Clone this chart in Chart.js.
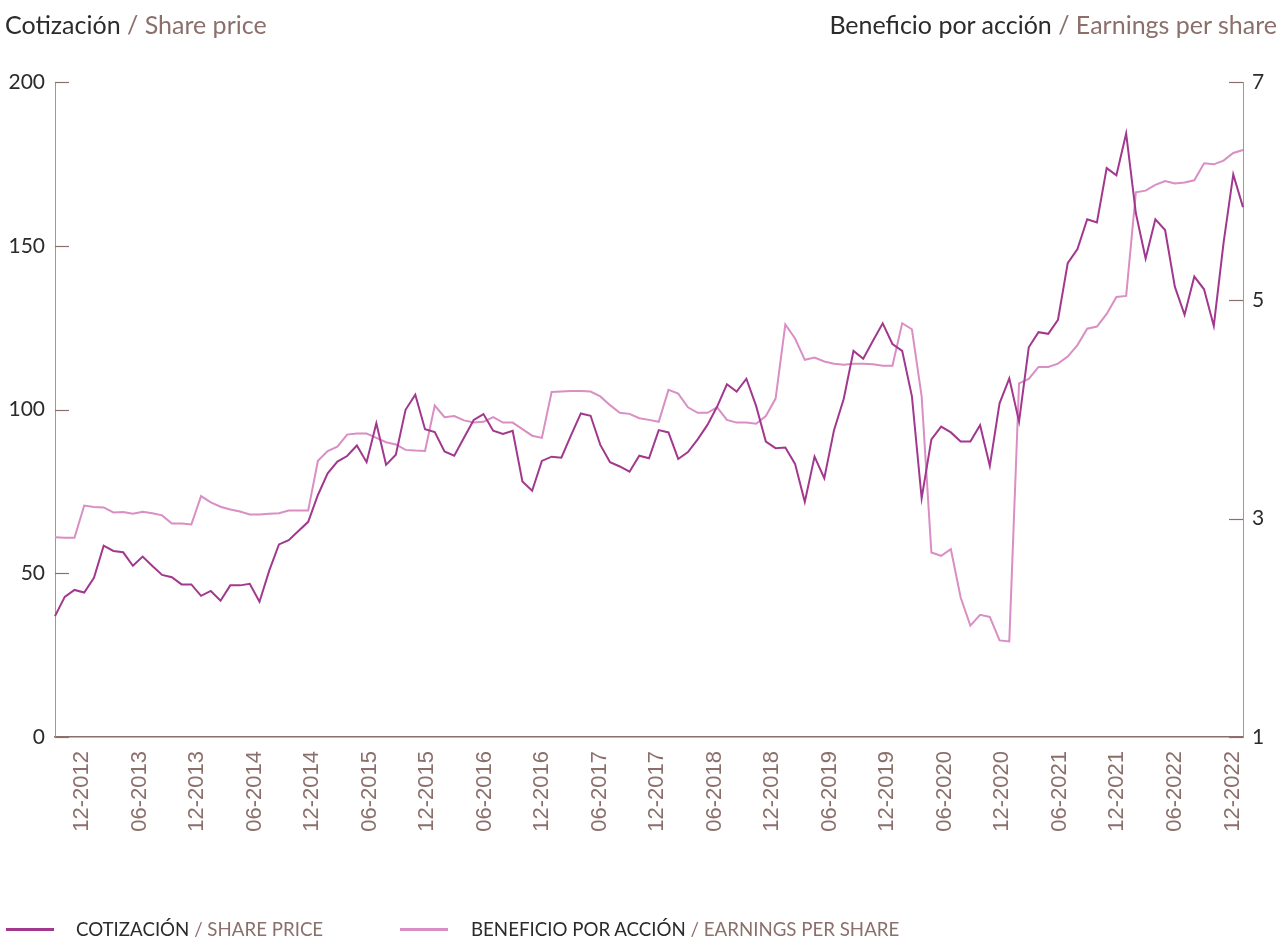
<!DOCTYPE html>
<html>
<head>
<meta charset="utf-8">
<script src="https://cdn.jsdelivr.net/npm/chart.js@4/dist/chart.umd.min.js"></script>
<style>
  html, body { margin: 0; padding: 0; background: #ffffff; }
  #wrap { position: relative; width: 1280px; height: 938px; overflow: hidden; font-family: Lato, "Noto Sans", sans-serif; }
  #c { position: absolute; left: 0; top: 0; }
  .title { position: absolute; top: 10px; font-size: 25px; line-height: 28px; color: #2b2b2b; white-space: nowrap; }
  .en { color: #8b6f6b; }
  .leg { position: absolute; top: 918px; font-size: 18.7px; line-height: 22px; color: #2b2b2b; white-space: nowrap; }
  .swatch { position: absolute; top: 928px; width: 48px; height: 3px; }
</style>
</head>
<body>
<div id="wrap">
  <canvas id="c" width="1280" height="938"></canvas>
  <div class="title" style="left:5px;">Cotización <span class="en">/ Share price</span></div>
  <div class="title" style="right:3px;">Beneficio por acción <span class="en">/ Earnings per share</span></div>
  <div class="swatch" style="left:6px; background:#a2388e;"></div>
  <div class="leg" style="left:76px;">COTIZACIÓN <span class="en">/ SHARE PRICE</span></div>
  <div class="swatch" style="left:400px; background:#d98ec4;"></div>
  <div class="leg" style="left:471px;">BENEFICIO POR ACCIÓN <span class="en">/ EARNINGS PER SHARE</span></div>
</div>
<script>
// Share price (left axis), one value per plotted point
const sharePrice = [
  36.9, 42.8, 44.9, 44.1, 48.6, 58.4, 56.8, 56.4, 52.3, 55.1,
  52.2, 49.5, 48.8, 46.6, 46.6, 43.1, 44.6, 41.6, 46.3, 46.3,
  46.8, 41.3, 50.8, 58.8, 60.1, 62.9, 65.7, 73.9, 80.5, 84.1,
  85.8, 89.0, 83.9, 95.8, 83.1, 86.2, 99.9, 104.5, 94.0, 93.1,
  87.2, 85.9, 91.4, 96.8, 98.6, 93.5, 92.5, 93.5, 78.0, 75.2,
  84.3, 85.6, 85.3, 92.2, 98.8, 98.1, 89.2, 83.9, 82.6, 81.0,
  85.9, 85.1, 93.7, 93.0, 84.9, 87.0, 90.9, 95.3, 100.9, 107.7,
  105.5, 109.4, 101.1, 90.2, 88.2, 88.4, 83.4, 71.8, 85.6, 79.0,
  93.7, 103.3, 117.9, 115.5, 121.0, 126.3, 120.0, 117.9, 104.0, 72.9,
  90.9, 94.8, 93.0, 90.2, 90.2, 95.2, 82.8, 101.9, 109.5, 96.3,
  119.0, 123.6, 123.1, 127.4, 144.7, 149.0, 158.1, 157.1, 173.7, 171.5,
  184.3, 159.9, 146.1, 158.1, 154.8, 137.5, 128.9, 140.6, 136.7, 125.5,
  150.8, 171.8, 161.8
];
// Earnings per share (right axis)
const eps = [
  2.83, 2.825, 2.825, 3.12, 3.106, 3.103, 3.057, 3.06, 3.045, 3.063,
  3.05, 3.03, 2.956, 2.956, 2.947, 3.207, 3.149, 3.109, 3.084, 3.066,
  3.039, 3.039, 3.045, 3.05, 3.075, 3.075, 3.075, 3.53, 3.62, 3.66,
  3.77, 3.78, 3.78, 3.74, 3.70, 3.68, 3.63, 3.624, 3.62, 4.036,
  3.93, 3.94, 3.90, 3.88, 3.887, 3.93, 3.88, 3.88, 3.82, 3.76,
  3.74, 4.16, 4.165, 4.17, 4.17, 4.165, 4.12, 4.04, 3.97, 3.96,
  3.92, 3.905, 3.887, 4.18, 4.146, 4.02, 3.97, 3.97, 4.02, 3.905,
  3.88, 3.88, 3.87, 3.94, 4.10, 4.78, 4.65, 4.455, 4.475, 4.44,
  4.42, 4.41, 4.418, 4.418, 4.415, 4.40, 4.40, 4.79, 4.735, 4.12,
  2.69, 2.66, 2.72, 2.28, 2.02, 2.12, 2.10, 1.885, 1.875, 4.24,
  4.28, 4.39, 4.39, 4.42, 4.485, 4.59, 4.74, 4.76, 4.875, 5.03,
  5.04, 5.99, 6.005, 6.057, 6.093, 6.07, 6.08, 6.10, 6.255, 6.246,
  6.28, 6.35, 6.377
];
// Plotted points (one category each)
const categories = sharePrice.map((_, i) => 'P' + (i + 1));
// Date tick labels on the bottom axis
const dateTickLabels = [
  '12-2012', '06-2013', '12-2013', '06-2014', '12-2014', '06-2015', '12-2015',
  '06-2016', '12-2016', '06-2017', '12-2017', '06-2018', '12-2018', '06-2019',
  '12-2019', '06-2020', '12-2020', '06-2021', '12-2021', '06-2022', '12-2022'
];
// Date axis range, in months counted from 01-2012
const dateAxisMin = 8.17;
const dateAxisMax = 132.1;
const leftTicks = [0, 50, 100, 150, 200];
const rightTicks = [1, 3, 5, 7];

const dateTickValues = dateTickLabels.map(s => {
  const [mm, yyyy] = s.split('-').map(Number);
  return (yyyy - 2012) * 12 + (mm - 1);
});

const BROWN = '#8b6f6b';
const DARK = '#2b2b2b';

const innerTicks = {
  id: 'innerTicks',
  afterDraw(chart) {
    const ctx = chart.ctx;
    ctx.save();
    ctx.strokeStyle = BROWN;
    ctx.lineWidth = 1.2;
    const yl = chart.scales.y, yr = chart.scales.y2;
    yl.ticks.forEach(t => {
      const py = Math.round(yl.getPixelForValue(t.value)) + 0.5;
      ctx.beginPath(); ctx.moveTo(yl.right, py); ctx.lineTo(yl.right + 14, py); ctx.stroke();
    });
    yr.ticks.forEach(t => {
      const py = Math.round(yr.getPixelForValue(t.value)) + 0.5;
      ctx.beginPath(); ctx.moveTo(yr.left - 14, py); ctx.lineTo(yr.left, py); ctx.stroke();
    });
    ctx.restore();
  }
};

new Chart(document.getElementById('c'), {
  type: 'line',
  data: {
    labels: categories,
    datasets: [
      { label: 'Cotización / Share price', data: sharePrice, yAxisID: 'y', xAxisID: 'x',
        borderColor: '#a2388e', borderWidth: 2, pointRadius: 0, tension: 0, fill: false },
      { label: 'Beneficio por acción / Earnings per share', data: eps, yAxisID: 'y2', xAxisID: 'x',
        borderColor: '#d98ec4', borderWidth: 2, pointRadius: 0, tension: 0, fill: false }
    ]
  },
  options: {
    responsive: false,
    animation: false,
    devicePixelRatio: 1,
    layout: { padding: { top: 82, left: 0, right: 0, bottom: 0 } },
    plugins: { legend: { display: false }, tooltip: { enabled: false } },
    scales: {
      x: { type: 'category', display: false, offset: false },
      xt: {
        type: 'linear', position: 'bottom', min: dateAxisMin, max: dateAxisMax,
        afterBuildTicks(axis) { axis.ticks = dateTickValues.map(v => ({ value: v })); },
        afterFit(axis) { axis.height = 201; },
        grid: { display: false, drawTicks: false },
        border: { display: true, color: BROWN, width: 1.5 },
        ticks: {
          autoSkip: false, minRotation: 90, maxRotation: 90, padding: 14,
          color: BROWN, font: { family: '"Liberation Sans", Arial, sans-serif', size: 22 },
          callback: (v, i) => dateTickLabels[i]
        }
      },
      y: {
        type: 'linear', position: 'left', min: 0, max: 200,
        afterBuildTicks(axis) { axis.ticks = leftTicks.map(v => ({ value: v })); },
        afterFit(axis) { axis.width = 55; },
        grid: { display: false, drawTicks: false },
        border: { display: true, color: '#9a9a9a', dash: [1, 3], width: 1 },
        ticks: { padding: 10, color: DARK, font: { family: 'Lato', size: 21 } }
      },
      y2: {
        type: 'linear', position: 'right', min: 1, max: 7,
        afterBuildTicks(axis) { axis.ticks = rightTicks.map(v => ({ value: v })); },
        afterFit(axis) { axis.width = 37; },
        grid: { display: false, drawTicks: false },
        border: { display: true, color: '#9a9a9a', dash: [1, 3], width: 1 },
        ticks: { padding: 9, color: DARK, font: { family: 'Lato', size: 21 } }
      }
    }
  },
  plugins: [innerTicks]
});
</script>
</body>
</html>
